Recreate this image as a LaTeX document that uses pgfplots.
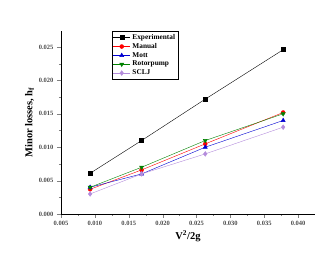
\documentclass[border=0pt]{standalone}
\usepackage{pgfplots}
\pgfplotsset{compat=1.18}
\usepackage{fontspec}
\setmainfont{Liberation Serif}
\definecolor{myviolet}{RGB}{180,140,220}
\definecolor{mygreen}{RGB}{0,130,0}
\definecolor{myblue}{RGB}{0,0,210}
\begin{document}
\begin{tikzpicture}
\useasboundingbox (-61pt,-50pt) rectangle (262pt,214pt);
\begin{axis}[
  scale only axis, width=254pt, height=183pt,
  xmin=0.005, xmax=0.0425, ymin=0, ymax=0.0274,
  axis lines=left, axis line style={-},
  xtick={0.005,0.010,...,0.040}, ytick={0,0.005,...,0.025},
  minor x tick num=1, minor y tick num=1,
  tick align=outside, major tick length=4pt, minor tick length=2pt,
  /pgf/number format/assume math mode=true,
  /pgf/number format/fixed, /pgf/number format/fixed zerofill, /pgf/number format/precision=3,
  scaled ticks=false,
  ticklabel style={font=\fontsize{6.5}{7}\selectfont\bfseries, text=black!70},
  xlabel={\textbf{V$^{\mathbf{2}}$/2g}}, ylabel={\textbf{Minor losses, h$_{\mathbf{f}}$}},
  label style={font=\fontsize{10.5}{11}\selectfont},
  xlabel style={yshift=2pt}, ylabel style={yshift=-2pt},
  legend style={at={(0.2,1)}, anchor=north west, font=\fontsize{7.3}{8}\selectfont\bfseries,
    draw=black, inner sep=1pt, row sep=-1.5pt, legend cell align=left},
]
\addplot[black, mark=square*, mark size=2pt] coordinates {(0.0093,0.0061) (0.0169,0.0110) (0.0263,0.0172) (0.0378,0.0246)};
\addlegendentry{Experimental}
\addplot[red, mark=*, mark size=2pt] coordinates {(0.0093,0.0037) (0.0169,0.0066) (0.0263,0.0105) (0.0378,0.0152)};
\addlegendentry{Manual}
\addplot[myblue, mark=triangle*, mark size=2.4pt] coordinates {(0.0093,0.0040) (0.0169,0.0060) (0.0263,0.0100) (0.0378,0.0140)};
\addlegendentry{Mott}
\addplot[mygreen, mark=triangle*, mark size=2.4pt, mark options={rotate=180}] coordinates {(0.0093,0.0040) (0.0169,0.0070) (0.0263,0.0110) (0.0378,0.0150)};
\addlegendentry{Rotorpump}
\addplot[myviolet, mark=diamond*, mark size=2.4pt] coordinates {(0.0093,0.0030) (0.0169,0.0060) (0.0263,0.0090) (0.0378,0.0130)};
\addlegendentry{SCLJ}
\end{axis}
\end{tikzpicture}
\end{document}
